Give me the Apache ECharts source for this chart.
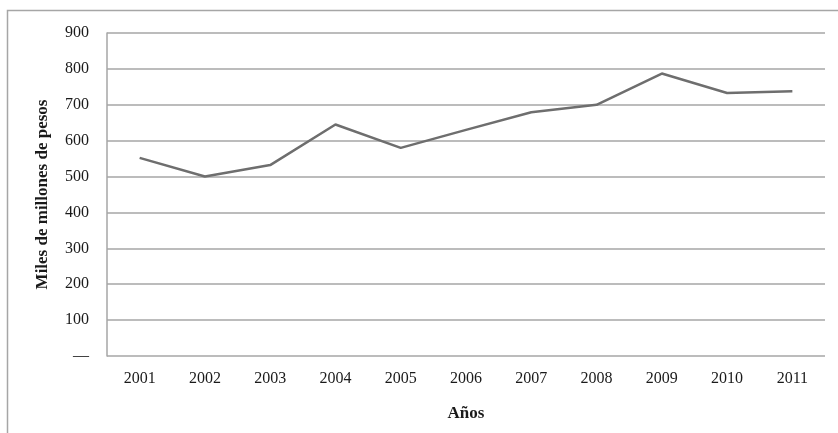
<!DOCTYPE html>
<html>
<head>
<meta charset="utf-8">
<script src="https://cdn.jsdelivr.net/npm/echarts@6/dist/echarts.min.js"></script>
<style>
  html, body { margin: 0; padding: 0; background: #fff; }
  #chart { width: 838px; height: 433px; }
</style>
</head>
<body>
<div id="chart"></div>
<script>
// Años y valores (miles de millones de pesos)
const years = ['2001', '2002', '2003', '2004', '2005', '2006', '2007', '2008', '2009', '2010', '2011'];
const values = [552, 500, 532, 645, 580, 630, 679, 700, 787, 733, 738];
const yMin = 0;
const yMax = 900;
const yStep = 100;

const FONT = '"Liberation Serif", "DejaVu Serif", serif';

const chart = echarts.init(document.getElementById('chart'), null, { renderer: 'canvas' });

chart.setOption({
  animation: false,
  backgroundColor: '#ffffff',
  textStyle: { fontFamily: FONT },
  graphic: [
    {
      type: 'polyline',
      silent: true,
      shape: { points: [[7.5, 433], [7.5, 10.5], [838, 10.5]] },
      style: { stroke: '#a6a6a6', lineWidth: 1.5, fill: null }
    }
  ],
  grid: { left: 107, right: 13, top: 33, bottom: 77, containLabel: false },
  xAxis: {
    type: 'category',
    data: years,
    boundaryGap: true,
    name: 'Años',
    nameLocation: 'middle',
    nameGap: 49,
    nameTextStyle: { fontFamily: FONT, fontSize: 17, fontWeight: 'bold', color: '#1a1a1a' },
    axisLine: { show: false },
    axisTick: { show: false },
    axisLabel: { fontFamily: FONT, fontSize: 16, color: '#1a1a1a', margin: 15 },
    splitLine: { show: false }
  },
  yAxis: {
    type: 'value',
    min: yMin,
    max: yMax,
    interval: yStep,
    name: 'Miles de millones de pesos',
    nameLocation: 'middle',
    nameGap: 56,
    nameRotate: 90,
    nameTextStyle: { fontFamily: FONT, fontSize: 17, fontWeight: 'bold', color: '#1a1a1a' },
    axisLine: { show: true, lineStyle: { color: '#a6a6a6', width: 1.5 } },
    axisTick: { show: false },
    axisLabel: {
      fontFamily: FONT,
      fontSize: 16,
      color: '#1a1a1a',
      margin: 18,
      formatter: function (v) { return v === 0 ? '—' : String(v); }
    },
    splitLine: { show: true, lineStyle: { color: '#a6a6a6', width: 1.5 } }
  },
  series: [
    {
      type: 'line',
      data: values,
      symbol: 'none',
      smooth: false,
      lineStyle: { color: '#6e6e6e', width: 2.5 }
    }
  ]
});
</script>
</body>
</html>
